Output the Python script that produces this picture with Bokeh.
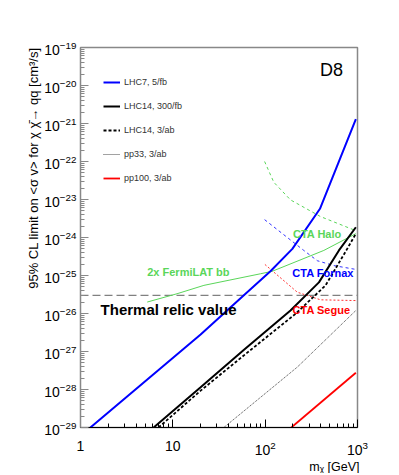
from bokeh.plotting import figure
from bokeh.models import Label, Legend, LegendItem, Range1d, FixedTicker, Title
from bokeh.embed import file_html
from bokeh.resources import INLINE

# ---- data (mass in GeV, <sigma v> in cm^3/s) ----
lhc7_m = [1.28, 20, 58, 114, 197, 392, 960]
lhc7_s = [1e-29, 2.82e-27, 2.95e-26, 1.29e-25, 5.01e-25, 5.69e-24, 1.3e-21]

lhc14_300_m = [6.2, 20, 59, 188, 382, 629, 960]
lhc14_300_s = [1e-29, 1.15e-28, 1.11e-27, 1.2e-26, 6.6e-26, 4.57e-25, 1.86e-24]

lhc14_3ab_m = [7.0, 20, 64, 213, 451, 756, 960]
lhc14_3ab_s = [1e-29, 9.33e-29, 9.33e-28, 9.77e-27, 5.5e-26, 4.57e-25, 1.26e-24]

pp33_m = [35.7, 223, 960]
pp33_s = [1e-29, 3.89e-28, 1.2e-26]

pp100_m = [192, 960]
pp100_s = [1e-29, 2.75e-28]

fermi_m = [5.28, 11.1, 21.7, 89, 119, 432, 960]
fermi_s = [2.0e-26, 3.31e-26, 5.5e-26, 1.11e-25, 1.29e-25, 4.57e-25, 1.26e-24]

halo_m = [98.6, 124, 188, 398, 960]
halo_s = [1e-22, 2.85e-23, 9.77e-24, 3.55e-24, 1.51e-24]

fornax_m = [98.6, 262, 367, 555, 953]
fornax_s = [2.95e-24, 4.57e-25, 2.45e-25, 1.82e-25, 1.45e-25]

segue_m = [99.4, 223, 398, 953]
segue_s = [1.95e-25, 3.63e-26, 2.29e-26, 2.19e-26]

thermal_m = [1, 1000]
thermal_s = [3e-26, 3e-26]

y_ticks = [1e-29, 1e-28, 1e-27, 1e-26, 1e-25, 1e-24, 1e-23, 1e-22, 1e-21, 1e-20, 1e-19]
x_ticks = [1, 10, 100, 1000]
x_tick_overrides = {1: "1", 10: "10"}

legend_labels = ["LHC7, 5/fb", "LHC14, 300/fb", "LHC14, 3/ab", "pp33, 3/ab", "pp100, 3/ab"]

FONT = "Liberation Sans"
GREEN = "#5ad65a"

p = figure(x_axis_type="log", y_axis_type="log",
           x_range=Range1d(1, 1000), y_range=Range1d(1e-29, 1e-19),
           frame_width=277, frame_height=380,
           min_border_left=80, min_border_right=34,
           min_border_top=47, min_border_bottom=46,
           output_backend="svg", toolbar_location=None)

p.xgrid.visible = False
p.ygrid.visible = False
p.outline_line_color = "#888888"
p.outline_line_width = 1.5

y_minor = [k * t for t in y_ticks[:-1] for k in range(2, 10)]
x_minor = [k * t for t in x_ticks[:-1] for k in range(2, 10)]
p.yaxis.ticker = FixedTicker(ticks=y_ticks, minor_ticks=y_minor)
p.xaxis.ticker = FixedTicker(ticks=x_ticks, minor_ticks=x_minor)
p.xaxis.major_label_overrides = x_tick_overrides

for ax in (p.xaxis[0], p.yaxis[0]):
    ax.major_tick_in = 8
    ax.major_tick_out = 0
    ax.minor_tick_in = 4
    ax.minor_tick_out = 0
    ax.major_label_text_font = FONT
    ax.major_label_text_font_size = "14px"
    ax.major_label_text_color = "black"

p.xaxis.axis_line_color = "black"
p.xaxis.major_tick_line_color = "black"
p.xaxis.minor_tick_line_color = "black"
p.xaxis.major_label_standoff = 13

p.yaxis.axis_line_color = "#888888"
p.yaxis.major_tick_line_color = "#888888"
p.yaxis.minor_tick_line_color = "#888888"
p.yaxis.major_label_standoff = 4

# axis titles (right / top aligned like the original)
p.add_layout(Title(text="mᵪ [GeV]", align="right", standoff=0, offset=-2,
                   text_font=FONT, text_font_size="12.5px", text_font_style="normal",
                   text_color="black"), "below")
p.add_layout(Title(text="95% CL limit on <σ v> for χ χ̄→ qq [cm³/s]", align="right",
                   standoff=2, offset=0,
                   text_font=FONT, text_font_size="13px", text_font_style="normal",
                   text_color="black"), "left")

# thermal relic line
p.line(thermal_m, thermal_s, line_color="#808080", line_width=1.2, line_dash="8 4")

# CTA curves
p.line(halo_m, halo_s, line_color=GREEN, line_width=1, line_dash="3 3")
p.line(fornax_m, fornax_s, line_color="#3333ff", line_width=1, line_dash="3 3")
p.line(segue_m, segue_s, line_color="#ff3333", line_width=1, line_dash="2 2")

# Fermi
p.line(fermi_m, fermi_s, line_color=GREEN, line_width=1)

# collider curves
r1 = p.line(lhc7_m, lhc7_s, line_color="#0000ff", line_width=2)
r2 = p.line(lhc14_300_m, lhc14_300_s, line_color="black", line_width=2)
r3 = p.line(lhc14_3ab_m, lhc14_3ab_s, line_color="black", line_width=1.8, line_dash="3 2")
r4 = p.line(pp33_m, pp33_s, line_color="#444444", line_width=1, line_dash="1 1")
r5 = p.line(pp100_m, pp100_s, line_color="#ff0000", line_width=1.8)

legend = Legend(items=[LegendItem(label=t, renderers=[r])
                       for t, r in zip(legend_labels, [r1, r2, r3, r4, r5])],
                location=(23, 239), margin=0, padding=0, spacing=4,
                glyph_width=17, glyph_height=20, label_height=20, label_standoff=4,
                label_text_font=FONT, label_text_font_size="9px", label_text_color="#333333",
                border_line_alpha=0, background_fill_alpha=0)
p.add_layout(legend, "center")

def lab(x, y, t, size, color, bold=True, align="left"):
    p.add_layout(Label(x=x, y=y, text=t, text_font=FONT, text_font_size=size,
                       text_color=color, text_font_style="bold" if bold else "normal",
                       text_align=align, text_baseline="middle"))

lab(524, 10**-19.605, "D8", "18px", "black", bold=False, align="center")
lab(367, 10**-23.90, "CTA Halo", "11px", GREEN, align="center")
lab(197, 10**-24.93, "CTA Fornax", "11px", "#0000ff")
lab(198, 10**-25.92, "CTA Segue", "11px", "#ff0000")
lab(1.65, 10**-25.90, "Thermal relic value", "15px", "black")
lab(5.28, 10**-24.91, "2x FermiLAT bb", "11px", GREEN)

open("out.html", "w").write(file_html(p, INLINE))
